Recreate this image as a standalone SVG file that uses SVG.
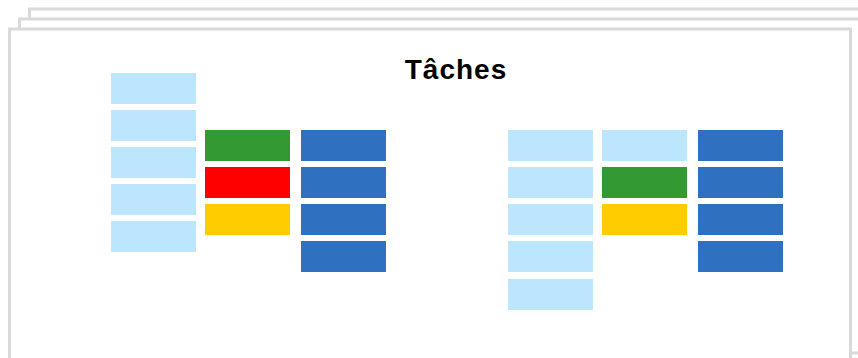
<svg xmlns="http://www.w3.org/2000/svg" width="858" height="358" viewBox="0 0 858 358">
<style>
.frame{fill:#ffffff;stroke:#d9d9d9;stroke-width:3}
.lb{fill:#bbe6fd}
.gr{fill:#339933}
.rd{fill:#ff0000}
.ye{fill:#ffcc00}
.bl{fill:#3070c0}
.title{font-family:"Liberation Sans",Arial,sans-serif;font-weight:bold;font-size:28px;fill:#000000;letter-spacing:1px}
</style>
<g id="frames">
<rect class="frame" x="29.5" y="9" width="841" height="334"/>
<rect class="frame" x="19.5" y="19" width="841" height="334"/>
<rect class="frame" x="9.5" y="29" width="841" height="334"/>
</g>
<text class="title" x="456" y="79" text-anchor="middle">Tâches</text>
<g id="col1">
<rect class="lb" x="111" y="73" width="85" height="31"/>
<rect class="lb" x="111" y="110" width="85" height="31"/>
<rect class="lb" x="111" y="147" width="85" height="31"/>
<rect class="lb" x="111" y="184" width="85" height="31"/>
<rect class="lb" x="111" y="221" width="85" height="31"/>
</g>
<g id="col2">
<rect class="gr" x="205" y="130" width="85" height="31"/>
<rect class="rd" x="205" y="167" width="85" height="31"/>
<rect class="ye" x="205" y="204" width="85" height="31"/>
</g>
<g id="col3">
<rect class="bl" x="301" y="130" width="85" height="31"/>
<rect class="bl" x="301" y="167" width="85" height="31"/>
<rect class="bl" x="301" y="204" width="85" height="31"/>
<rect class="bl" x="301" y="241" width="85" height="31"/>
</g>
<g id="col4">
<rect class="lb" x="508" y="130" width="85" height="31"/>
<rect class="lb" x="508" y="167" width="85" height="31"/>
<rect class="lb" x="508" y="204" width="85" height="31"/>
<rect class="lb" x="508" y="241" width="85" height="31"/>
<rect class="lb" x="508" y="279" width="85" height="31"/>
</g>
<g id="col5">
<rect class="lb" x="602" y="130" width="85" height="31"/>
<rect class="gr" x="602" y="167" width="85" height="31"/>
<rect class="ye" x="602" y="204" width="85" height="31"/>
</g>
<g id="col6">
<rect class="bl" x="698" y="130" width="85" height="31"/>
<rect class="bl" x="698" y="167" width="85" height="31"/>
<rect class="bl" x="698" y="204" width="85" height="31"/>
<rect class="bl" x="698" y="241" width="85" height="31"/>
</g>
</svg>
